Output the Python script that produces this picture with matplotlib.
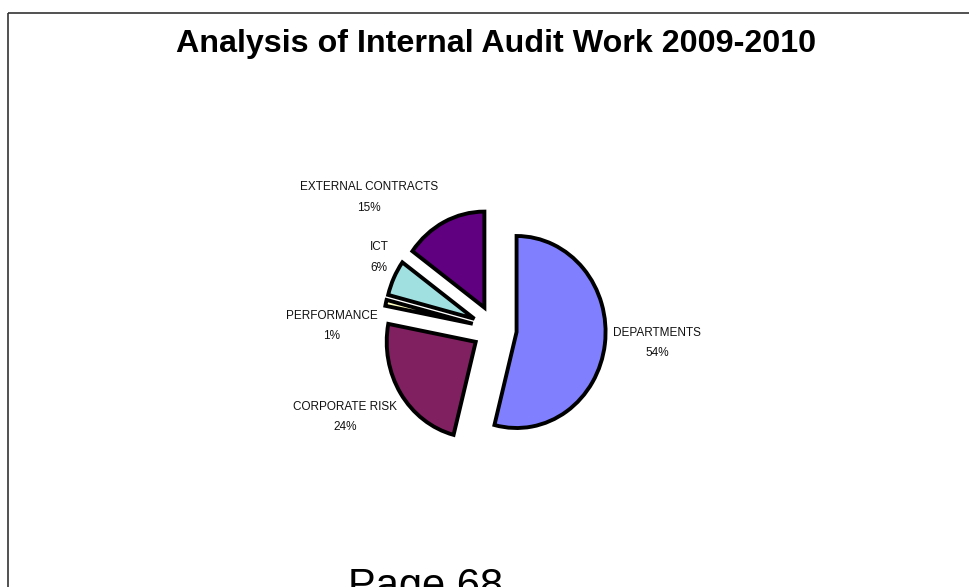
import matplotlib
matplotlib.use("Agg")
import matplotlib.pyplot as plt
from matplotlib.patches import Rectangle

# ---- data ----
categories = ["DEPARTMENTS", "CORPORATE RISK", "PERFORMANCE", "ICT", "EXTERNAL CONTRACTS"]
percentages = [54, 24, 1, 6, 15]
colors = ["#8080FF", "#802060", "#FFFFC0", "#A0E0E0", "#600080"]
explode = [0.25, 0.25, 0.25, 0.25, 0.25]
title = "Analysis of Internal Audit Work 2009-2010"
footer = "Page 68"

# ---- layout (pixel units) ----
W, H = 970, 587
cx, cy = 494.5, 329.0     # pie centre in pixels
rx, ry = 89.0, 96.0       # pie radii in pixels (slightly elliptical)
label_centers = [(657, 343), (345, 417), (332, 326), (379, 257.5), (369, 197.5)]

plt.rcParams['font.family'] = ['Liberation Sans', 'DejaVu Sans']

fig = plt.figure(figsize=(W / 100, H / 100), dpi=100)
fig.patch.set_facecolor("white")

# overlay axes in pixel coordinates
ov = fig.add_axes([0, 0, 1, 1])
ov.set_xlim(0, W)
ov.set_ylim(H, 0)
ov.axis("off")
ov.add_patch(Rectangle((8.5, 13), W + 50, H + 50, fill=False,
                       edgecolor="#333333", linewidth=1.2))

ov.text(496.5, 52, title, ha="center", va="baseline", fontsize=23.2,
        fontweight="bold", color="black")
ov.text(348, 598, footer, ha="left", va="baseline", fontsize=30, color="black")

for name, pct, (lx, ly) in zip(categories, percentages, label_centers):
    ov.text(lx, ly, f"{name}\n{pct}%", ha="center", va="center",
            fontsize=8.5, linespacing=1.95, color="#111111")

# pie axes: 1 data unit = rx px horizontally, ry px vertically
span = 1.5
left = (cx - span * rx) / W
bottom = (H - cy - span * ry) / H
pax = fig.add_axes([left, bottom, 2 * span * rx / W, 2 * span * ry / H])
pax.pie(percentages, explode=explode, colors=colors, startangle=90,
        counterclock=False, radius=1.0,
        wedgeprops=dict(edgecolor="black", linewidth=2.8, joinstyle="miter"))
pax.set_aspect("auto")
pax.set_xlim(-span, span)
pax.set_ylim(-span, span)
pax.axis("off")

fig.savefig("out.png", dpi=100, facecolor="white")
